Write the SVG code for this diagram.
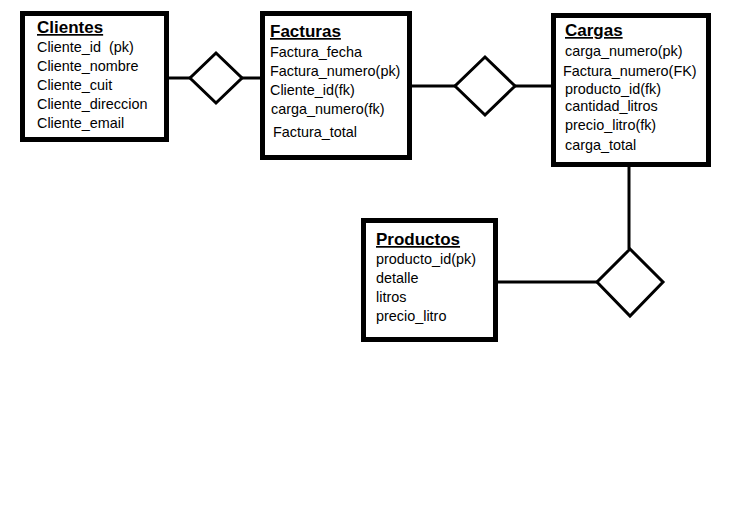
<svg xmlns="http://www.w3.org/2000/svg" width="755" height="507" viewBox="0 0 755 507">
<style>
.box{fill:#fff;stroke:#000;stroke-width:5}
.dia{fill:#fff;stroke:#000;stroke-width:3}
.ln{stroke:#000;stroke-width:3;fill:none}
.t{font-family:"Liberation Sans",Arial,sans-serif;font-size:17px;font-weight:bold;text-decoration:underline;fill:#000}
.a{font-family:"Liberation Sans",Arial,sans-serif;font-size:14.4px;fill:#000}
</style>
<rect width="755" height="507" fill="#fff"/>
<g id="connectors">
<line class="ln" x1="169" y1="78" x2="260" y2="78"/>
<line class="ln" x1="412" y1="86" x2="551" y2="86"/>
<line class="ln" x1="629" y1="167" x2="629" y2="249"/>
<line class="ln" x1="498" y1="282" x2="597" y2="282"/>
</g>
<g id="rel1"><polygon class="dia" points="216,53 242,78 216,103 190,78"/></g>
<g id="rel2"><polygon class="dia" points="485,57 515,86 485,115 455,86"/></g>
<g id="rel3"><polygon class="dia" points="630,249 663,282 630,316 597,282"/></g>
<g id="clientes">
<rect class="box" x="22.5" y="13.5" width="144" height="126"/>
<text class="t" x="37" y="33">Clientes</text>
<text class="a" x="37" y="52">Cliente_id&#160; (pk)</text>
<text class="a" x="37" y="71">Cliente_nombre</text>
<text class="a" x="37" y="90">Cliente_cuit</text>
<text class="a" x="37" y="109">Cliente_direccion</text>
<text class="a" x="37" y="128">Cliente_email</text>
</g>
<g id="facturas">
<rect class="box" x="262.5" y="13.5" width="147" height="144"/>
<text class="t" x="270" y="37">Facturas</text>
<text class="a" x="270" y="57">Factura_fecha</text>
<text class="a" x="270" y="76">Factura_numero(pk)</text>
<text class="a" x="270" y="95">Cliente_id(fk)</text>
<text class="a" x="271" y="114">carga_numero(fk)</text>
<text class="a" x="273" y="137">Factura_total</text>
</g>
<g id="cargas">
<rect class="box" x="553.5" y="15.5" width="155" height="149"/>
<text class="t" x="565" y="36">Cargas</text>
<text class="a" x="565" y="56">carga_numero(pk)</text>
<text class="a" x="563" y="76">Factura_numero(FK)</text>
<text class="a" x="565" y="94">producto_id(fk)</text>
<text class="a" x="565" y="111">cantidad_litros</text>
<text class="a" x="565" y="130">precio_litro(fk)</text>
<text class="a" x="565" y="150">carga_total</text>
</g>
<g id="productos">
<rect class="box" x="363.5" y="220.5" width="132" height="119"/>
<text class="t" x="376" y="245">Productos</text>
<text class="a" x="376" y="264">producto_id(pk)</text>
<text class="a" x="376" y="283">detalle</text>
<text class="a" x="376" y="302">litros</text>
<text class="a" x="376" y="321">precio_litro</text>
</g>
</svg>
